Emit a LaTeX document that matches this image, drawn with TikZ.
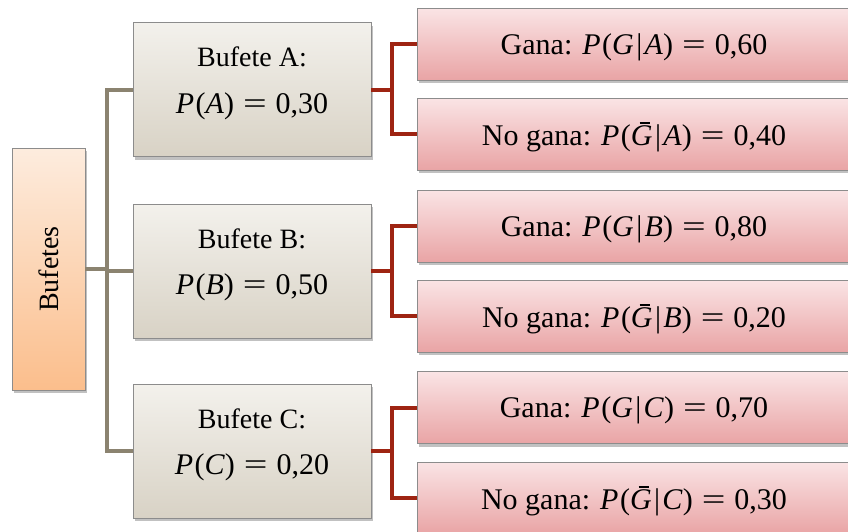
\documentclass[tikz,border=0pt]{standalone}
\usepackage{fontspec}
\usepackage{graphicx}
\setmainfont{Liberation Serif}
\usetikzlibrary{shadows}

\definecolor{peachtop}{RGB}{253,236,222}
\definecolor{peachbot}{RGB}{251,190,140}
\definecolor{stonetop}{RGB}{243,241,236}
\definecolor{stonebot}{RGB}{216,210,197}
\definecolor{rosetop}{RGB}{250,228,229}
\definecolor{rosebot}{RGB}{233,164,165}
\definecolor{taupe}{RGB}{139,131,112}
\definecolor{rust}{RGB}{158,36,18}
\definecolor{edge}{RGB}{140,140,140}

% probability notation set in italic text
\newcommand{\vv}[1]{\textit{#1}}
\newcommand{\nG}{\rlap{\kern0.29em\rule[0.74em]{0.34em}{0.05em}}\textit{G}}
\newcommand{\givenbar}{\kern0.08em|\kern0.08em}
\newcommand{\eqsign}{\hspace{0.3em}\scalebox{1.4}[1]{=}\hspace{0.3em}}
\newcommand{\prob}[2]{\vv{P}\kern0.05em(#1)\eqsign #2}
\newcommand{\mathline}[1]{{\fontsize{30}{46.6}\selectfont #1}}

\tikzset{
  boxfont/.style={font=\fontsize{28}{46.6}\selectfont},
  box/.style={draw=edge, line width=0.8pt, inner sep=0pt, align=center, boxfont,
    drop shadow={shadow xshift=2pt, shadow yshift=-3pt, opacity=0.35, fill=black!70}},
  rootbox/.style={box, minimum width=73pt, minimum height=242pt,
    top color=peachtop, bottom color=peachbot},
  firmbox/.style={box, minimum width=238pt, minimum height=134pt,
    top color=stonetop, bottom color=stonebot},
  firmtext/.style={boxfont, align=center, inner sep=0pt, yshift=6pt},
  outbox/.style={box, minimum width=434pt, minimum height=72pt,
    font=\fontsize{30}{36}\selectfont, text depth=0pt,
    top color=rosetop, bottom color=rosebot},
  grayline/.style={draw=taupe, line width=4pt},
  redline/.style={draw=rust, line width=4pt},
}

\begin{document}
\begin{tikzpicture}[x=1pt, y=-1pt]
  \useasboundingbox (0,0) rectangle (848,531);
  \clip (0,0) rectangle (848,531);

  % root
  \node[rootbox] (root) at (48.5,269) {\rotatebox{90}{Bufetes}};

  % firms
  \node[firmbox, label={[firmtext]center:{Bufete A:\\ \mathline{\prob{\vv{A}}{0,30}}}}] (fa) at (252,89.5) {};
  \node[firmbox, label={[firmtext]center:{Bufete B:\\ \mathline{\prob{\vv{B}}{0,50}}}}] (fb) at (252,271) {};
  \node[firmbox, label={[firmtext]center:{Bufete C:\\ \mathline{\prob{\vv{C}}{0,20}}}}] (fc) at (252,451) {};

  % outcomes
  \node[outbox] (ag) at (634,44)    {Gana: \prob{\vv{G}\givenbar\vv{A}}{0,60}};
  \node[outbox] (an) at (634,134)   {No gana: \prob{\nG\givenbar\vv{A}}{0,40}};
  \node[outbox] (bg) at (634,226)   {Gana: \prob{\vv{G}\givenbar\vv{B}}{0,80}};
  \node[outbox] (bn) at (634,316)   {No gana: \prob{\nG\givenbar\vv{B}}{0,20}};
  \node[outbox] (cg) at (634,407.5) {Gana: \prob{\vv{G}\givenbar\vv{C}}{0,70}};
  \node[outbox] (cn) at (634,498)   {No gana: \prob{\nG\givenbar\vv{C}}{0,30}};

  % root to firms
  \coordinate (rj) at (107,269);
  \draw[grayline] (root.east) -- (rj);
  \draw[grayline] (rj) |- (fa.west);
  \draw[grayline] (rj) |- (fc.west);
  \draw[grayline] (rj) |- (fb.west);

  % firms to outcomes
  \foreach \f/\g/\n in {fa/ag/an, fb/bg/bn, fc/cg/cn}{
    \coordinate (j\f) at ([xshift=21pt]\f.east);
    \draw[redline] (\f.east) -- (j\f);
    \draw[redline] (j\f) |- (\g.west);
    \draw[redline] (j\f) |- (\n.west);
  }
\end{tikzpicture}
\end{document}
